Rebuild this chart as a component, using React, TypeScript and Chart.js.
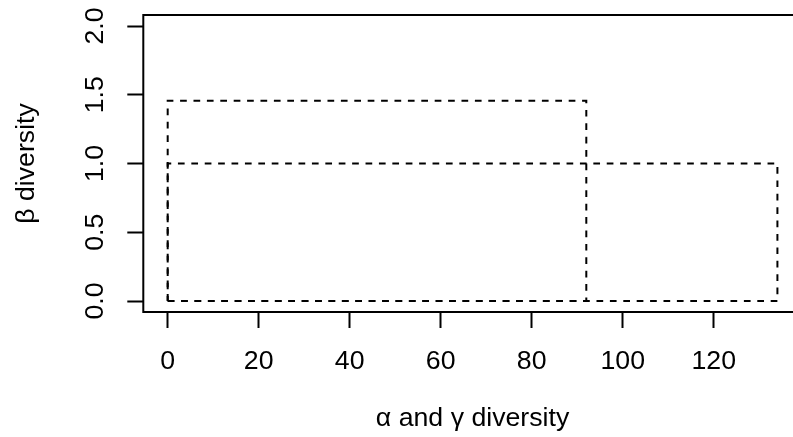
import React, { useEffect, useRef } from "react";
import { Chart, registerables } from "chart.js";

Chart.register(...registerables);

// Data: two rectangles drawn from the origin (R rect(0, 0, width, height))
const rectNames = ["alpha x beta", "gamma x 1"];
const rectWidths = [92, 134]; // alpha diversity, gamma diversity
const rectHeights = [1.4565, 1]; // beta diversity (gamma / alpha), 1

const xTickValues = [0, 20, 40, 60, 80, 100, 120];
const yTickValues = [0, 0.5, 1, 1.5, 2];

const xTitle = "\u03b1 and \u03b3 diversity";
const yTitle = "\u03b2 diversity";

const FONT = "'Liberation Sans', Arial, Helvetica, sans-serif";
const FS = 26.7;
const LW = 2;

const framePlugin = {
  id: "rframe",
  afterDraw(chart: any) {
    const { ctx, chartArea } = chart;
    ctx.save();
    ctx.strokeStyle = "#000";
    ctx.lineWidth = LW;
    ctx.setLineDash([]);
    ctx.strokeRect(
      chartArea.left,
      chartArea.top,
      chartArea.right - chartArea.left,
      chartArea.bottom - chartArea.top
    );
    ctx.restore();
  },
};

export default function App() {
  const ref = useRef<HTMLCanvasElement | null>(null);

  useEffect(() => {
    if (!ref.current) return;
    const xMax = Math.max(...rectWidths);
    const xPad = xMax * 0.04;
    const yLo = 0;
    const yHi = yTickValues[yTickValues.length - 1];
    const yPad = (yHi - yLo) * 0.04;

    const datasets = rectNames.map((name, i) => ({
      label: name,
      data: [
        { x: 0, y: 0 },
        { x: rectWidths[i], y: 0 },
        { x: rectWidths[i], y: rectHeights[i] },
        { x: 0, y: rectHeights[i] },
        { x: 0, y: 0 },
      ],
      showLine: true,
      borderColor: "#000",
      borderWidth: LW,
      borderDash: [6.7, 6.7],
      pointRadius: 0,
      fill: false,
      tension: 0,
    }));

    const zeroPad = (s: any) => {
      s.paddingTop = 0;
      s.paddingBottom = 0;
      s.paddingLeft = 0;
      s.paddingRight = 0;
    };

    const chart = new Chart(ref.current, {
      type: "scatter",
      data: { datasets },
      options: {
        animation: false,
        responsive: false,
        devicePixelRatio: 1,
        layout: { padding: { left: 0, top: 15, right: 820 - 801.8, bottom: 0 } },
        plugins: {
          legend: { display: false },
          tooltip: { enabled: false },
        },
        scales: {
          x: {
            type: "linear",
            min: -xPad,
            max: xMax + xPad,
            afterFit: (s: any) => {
              s.height = 125;
              zeroPad(s);
            },
            afterBuildTicks: (s: any) => {
              s.ticks = xTickValues.map((v) => ({ value: v }));
            },
            border: { display: false },
            grid: {
              drawOnChartArea: false,
              drawTicks: true,
              tickLength: 16,
              tickWidth: LW,
              tickColor: "#000",
            },
            ticks: {
              color: "#000",
              font: { family: FONT, size: FS },
              padding: 18,
              maxRotation: 0,
              minRotation: 0,
              autoSkip: false,
              callback: (v: any) => String(v),
            },
            title: {
              display: true,
              text: xTitle,
              color: "#000",
              font: { family: FONT, size: FS },
              padding: { top: 0, bottom: 2.3 },
            },
          },
          y: {
            type: "linear",
            min: yLo - yPad,
            max: yHi + yPad,
            afterFit: (s: any) => {
              s.width = 143.3;
              zeroPad(s);
            },
            afterBuildTicks: (s: any) => {
              s.ticks = yTickValues.map((v) => ({ value: v }));
            },
            border: { display: false },
            grid: {
              drawOnChartArea: false,
              drawTicks: true,
              tickLength: 16,
              tickWidth: LW,
              tickColor: "#000",
            },
            ticks: {
              color: "#000",
              font: { family: FONT, size: FS },
              padding: 12.75,
              minRotation: 90,
              maxRotation: 90,
              crossAlign: "center",
              autoSkip: false,
              callback: (v: any) => Number(v).toFixed(1),
            },
            title: {
              display: true,
              text: yTitle,
              color: "#000",
              font: { family: FONT, size: FS },
              padding: { top: 10.5, bottom: 0 },
            },
          },
        },
      },
      plugins: [framePlugin],
    });
    return () => chart.destroy();
  }, []);

  return (
    <div
      style={{
        position: "fixed",
        left: 0,
        top: 0,
        width: 793,
        height: 437,
        overflow: "hidden",
        background: "#fff",
      }}
    >
      <canvas ref={ref} width={820} height={437} style={{ display: "block" }} />
    </div>
  );
}
